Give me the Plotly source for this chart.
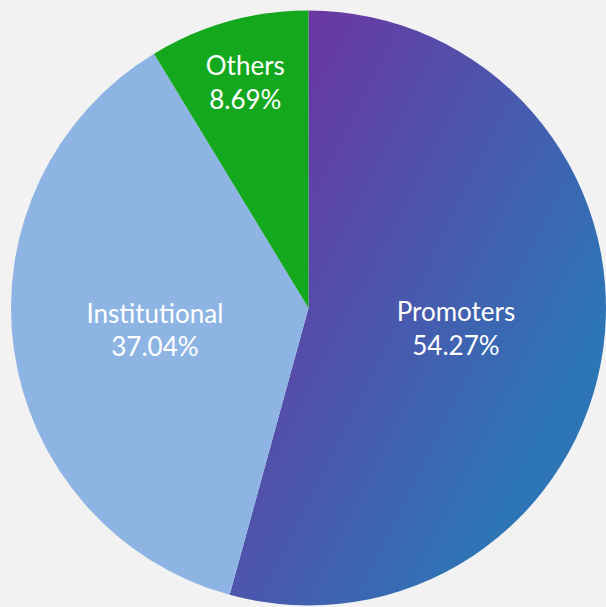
import plotly.graph_objects as go

labels = ["Promoters", "Institutional", "Others"]
values = [54.27, 37.04, 8.69]
colors = ["#5658aa", "#8eb4e3", "#14a81e"]
gradient_stops = ["#7030a0", "#2e75b6"]  # fill for the Promoters slice

fig = go.Figure(go.Pie(
    labels=labels,
    values=values,
    sort=False,
    direction="clockwise",
    rotation=0,
    marker=dict(colors=colors, line=dict(width=0)),
    texttemplate="%{label}<br>%{value:.2f}%",
    textposition="inside",
    insidetextorientation="horizontal",
    textfont=dict(family="Lato", size=26, color="white"),
    hoverinfo="label+value",
    showlegend=False,
))

fig.update_layout(
    width=606, height=607,
    margin=dict(l=11, r=0, t=9, b=0),
    paper_bgcolor="#f2f2f2",
    plot_bgcolor="#f2f2f2",
)

post_js = """
document.body.style.margin = '0';
document.body.style.overflow = 'hidden';
document.body.style.background = '#f2f2f2';
(function(){
  var gd = document.getElementById('{plot_id}');
  var ns = 'http://www.w3.org/2000/svg';
  var svg = gd.querySelector('svg.main-svg');
  var defs = svg.querySelector('defs');
  if (!defs) { defs = document.createElementNS(ns, 'defs'); svg.insertBefore(defs, svg.firstChild); }
  var lg = document.createElementNS(ns, 'linearGradient');
  lg.setAttribute('id', 'promGrad');
  lg.setAttribute('x1', '0.1'); lg.setAttribute('y1', '0');
  lg.setAttribute('x2', '0.89'); lg.setAttribute('y2', '0.63');
  var stops = %s;
  stops.forEach(function(c, i){
    var s = document.createElementNS(ns, 'stop');
    s.setAttribute('offset', i === 0 ? '0' : '1');
    s.setAttribute('stop-color', c);
    lg.appendChild(s);
  });
  defs.appendChild(lg);
  var path = gd.querySelector('g.slice path.surface');
  if (path) { path.style.fill = 'url(#promGrad)'; }
})();
""" % str(gradient_stops).replace("'", '"')

fig.write_html("out.html", post_script=post_js, config={"displayModeBar": False})
